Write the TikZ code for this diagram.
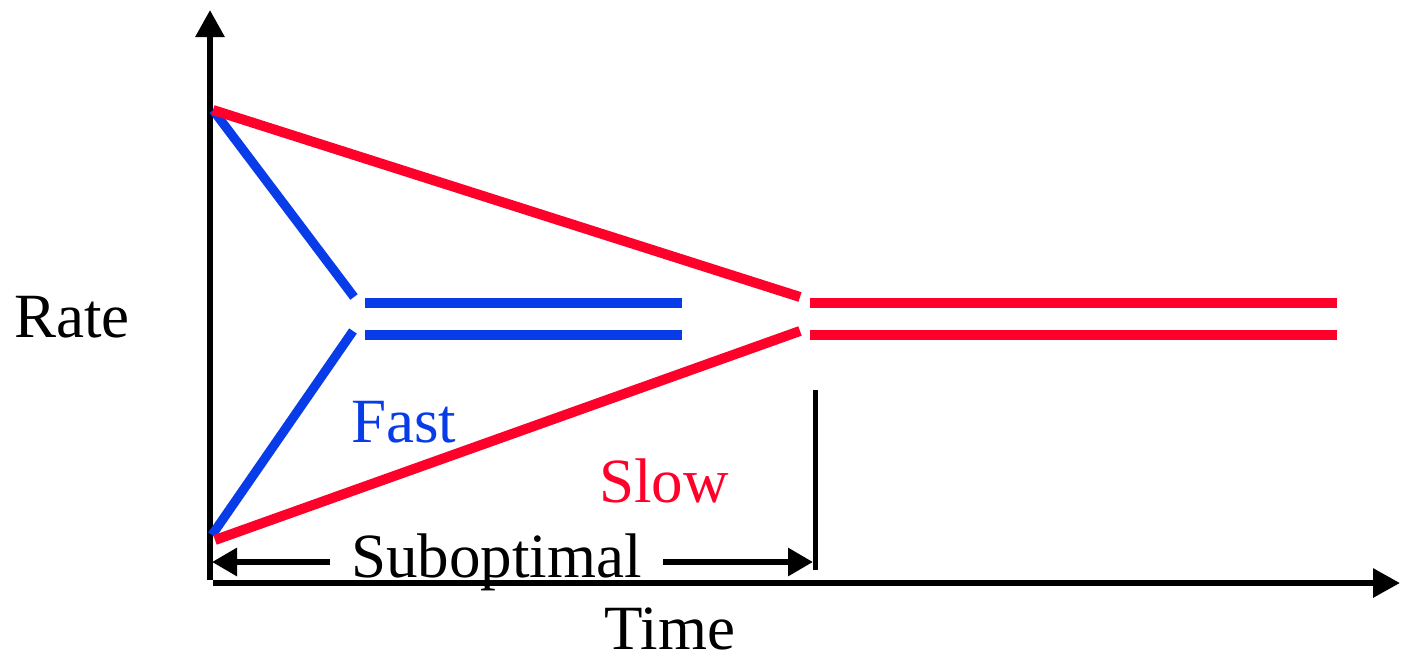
\documentclass[tikz,border=0pt]{standalone}
\usepackage{fontspec}
\setmainfont{Liberation Serif}
\usetikzlibrary{arrows.meta}
\definecolor{fastblue}{RGB}{8,60,232}
\definecolor{slowred}{RGB}{255,0,42}
\begin{document}
\begin{tikzpicture}[x=0.5pt,y=-0.5pt,
  axisline/.style={line width=3pt,-{Triangle[length=13.5pt,width=14pt]}},
  spanarrow/.style={line width=3pt,-{Triangle[length=12.5pt,width=13.5pt]}},
  fastline/.style={line width=4.6pt,fastblue},
  slowline/.style={line width=5pt,slowred},
  lbl/.style={inner sep=0pt,anchor=base west,font=\fontsize{31.5pt}{36pt}\selectfont}]
\useasboundingbox (0,0) rectangle (1401,664);
% axes
\coordinate (ybot) at (210,580);
\coordinate (ytop) at (210,10);
\coordinate (xleft) at (213,583);
\coordinate (xright) at (1400,583);
\draw[axisline] (ybot) -- (ytop);
\draw[axisline] (xleft) -- (xright);
% curve points
\coordinate (top) at (213,110);
\coordinate (fbot) at (212,535);
\coordinate (sbot) at (215,540);
\coordinate (fup) at (354,297);
\coordinate (flo) at (353,331);
\coordinate (sup1) at (800,297);
\coordinate (slo1) at (800,331);
\coordinate (fh1a) at (365,303);
\coordinate (fh1b) at (682,303);
\coordinate (fh2a) at (365,335);
\coordinate (fh2b) at (682,335);
\coordinate (sh1a) at (810,303);
\coordinate (sh1b) at (1337,303);
\coordinate (sh2a) at (810,335);
\coordinate (sh2b) at (1337,335);
\draw[fastline] (top) -- (fup);
\draw[fastline] (fbot) -- (flo);
\draw[fastline] (fh1a) -- (fh1b);
\draw[fastline] (fh2a) -- (fh2b);
\draw[slowline] (top) -- (sup1);
\draw[slowline] (sbot) -- (slo1);
\draw[slowline] (sh1a) -- (sh1b);
\draw[slowline] (sh2a) -- (sh2b);
% suboptimal span
\coordinate (mtop) at (815,390);
\coordinate (mbot) at (815,570);
\draw[line width=2.5pt] (mtop) -- (mbot);
\coordinate (la) at (330,562);
\coordinate (lb) at (212,562);
\coordinate (ra) at (663,562);
\coordinate (rb) at (813,562);
\draw[spanarrow] (la) -- (lb);
\draw[spanarrow] (ra) -- (rb);
% labels
\node[lbl] (rate) at (14,337) {Rate};
\node[lbl] (time) at (604,649) {Time};
\node[lbl,text=fastblue] (fast) at (351,442) {Fast};
\node[lbl,text=slowred] (slow) at (599,502) {Slow};
\node[lbl] (subopt) at (351,577) {Suboptimal};
\end{tikzpicture}
\end{document}
